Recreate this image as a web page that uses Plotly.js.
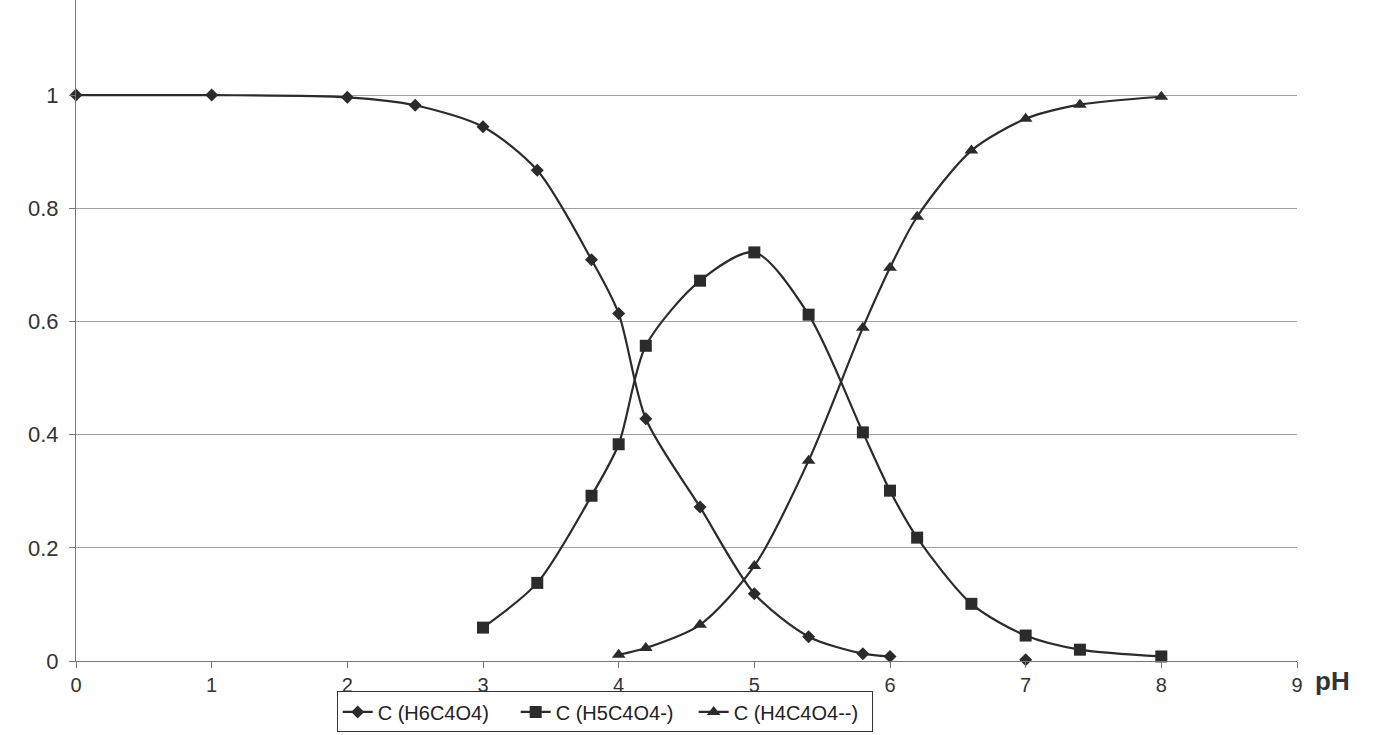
<!DOCTYPE html>
<html>
<head>
<meta charset="utf-8">
<script src="https://cdn.plot.ly/plotly-3.0.1.min.js"></script>
<style>html,body{margin:0;padding:0;background:#fff;}#chart{width:1386px;height:735px;}</style>
</head>
<body>
<div id="chart"></div>
<script>
// Series 1: C (H6C4O4) — gap (null) before the lone point at pH 7
var phAcid = [0, 1, 2, 2.5, 3, 3.4, 3.8, 4, 4.2, 4.6, 5, 5.4, 5.8, 6, 6.5, 7];
var cAcid  = [1.0, 1.0, 0.996, 0.982, 0.944, 0.867, 0.709, 0.614, 0.428, 0.272, 0.119, 0.043, 0.013, 0.008, null, 0.002];

// Series 2: C (H5C4O4-)
var phMono = [3, 3.4, 3.8, 4, 4.2, 4.6, 5, 5.4, 5.8, 6, 6.2, 6.6, 7, 7.4, 8];
var cMono  = [0.059, 0.138, 0.292, 0.383, 0.557, 0.672, 0.722, 0.612, 0.404, 0.301, 0.218, 0.101, 0.045, 0.020, 0.008];

// Series 3: C (H4C4O4--)
var phDi = [4, 4.2, 4.6, 5, 5.4, 5.8, 6, 6.2, 6.6, 7, 7.4, 8];
var cDi  = [0.011, 0.023, 0.064, 0.168, 0.354, 0.589, 0.695, 0.785, 0.902, 0.958, 0.983, 0.997];

var seriesNames = ['C (H6C4O4)', 'C (H5C4O4-)', 'C (H4C4O4--)'];
var xTicks = [0, 1, 2, 3, 4, 5, 6, 7, 8, 9];
var yTicks = [0, 0.2, 0.4, 0.6, 0.8, 1];
var yTickText = ['0', '0.2', '0.4', '0.6', '0.8', '1'];

var ink = '#2b2b2b';
function tr(x, y, name, sym, size) {
  return {
    x: x, y: y, name: name, type: 'scatter', mode: 'lines+markers',
    line: {color: ink, width: 2.2, shape: 'spline', smoothing: 0.8},
    marker: {symbol: sym, size: size, color: ink},
    connectgaps: false, cliponaxis: false
  };
}

var data = [
  tr(phAcid, cAcid, seriesNames[0], 'diamond', 10),
  tr(phMono, cMono, seriesNames[1], 'square', 12),
  tr(phDi, cDi, seriesNames[2], 'triangle-up', 12)
];

var layout = {
  width: 1386, height: 735,
  margin: {l: 76, r: 89, t: 0, b: 74},
  paper_bgcolor: '#fff', plot_bgcolor: '#fff',
  font: {family: 'Liberation Sans, Arial, sans-serif', size: 20, color: '#333'},
  showlegend: true,
  legend: {
    orientation: 'h', x: 0.433, xanchor: 'center', y: -0.046, yanchor: 'top',
    bordercolor: '#333', borderwidth: 1, bgcolor: '#fff',
    font: {size: 20, color: '#222'}, itemwidth: 30, tracegroupgap: 0,
    entrywidth: 133, entrywidthmode: 'pixels'
  },
  xaxis: {
    range: [0, 9], tickvals: xTicks, ticks: 'outside', ticklen: 6, tickcolor: '#777',
    showgrid: false, zeroline: false, showline: true, linecolor: '#777', linewidth: 1,
    tickfont: {size: 20, color: '#333'}, fixedrange: true
  },
  yaxis: {
    range: [0, 1.168], tickvals: yTicks, ticktext: yTickText, ticks: 'outside', ticklen: 6,
    tickcolor: '#777', ticklabelstandoff: 6,
    showgrid: true, gridcolor: '#a0a0a0', gridwidth: 1, zeroline: false,
    showline: true, linecolor: '#777', linewidth: 1,
    tickfont: {size: 22, color: '#333'}, fixedrange: true
  },
  annotations: [{
    text: '<b>pH</b>', xref: 'paper', yref: 'paper', x: 1.029, y: -0.031,
    xanchor: 'center', yanchor: 'middle', showarrow: false,
    font: {size: 26, color: '#333', family: 'Liberation Sans, Arial, sans-serif'}
  }]
};

Plotly.newPlot('chart', data, layout, {displayModeBar: false, staticPlot: true});
</script>
</body>
</html>
